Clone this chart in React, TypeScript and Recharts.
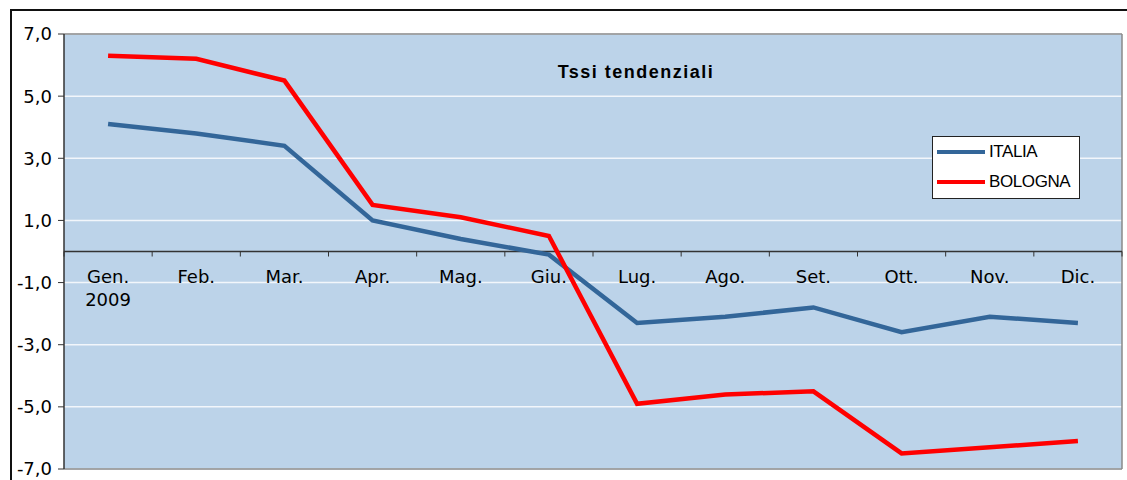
import React from 'react';
import { LineChart, Line, XAxis, YAxis, CartesianGrid, ReferenceLine } from 'recharts';

const CATEGORIES = ['Gen.', 'Feb.', 'Mar.', 'Apr.', 'Mag.', 'Giu.', 'Lug.', 'Ago.', 'Set.', 'Ott.', 'Nov.', 'Dic.'];
const SUBLABELS = ['2009', '', '', '', '', '', '', '', '', '', '', ''];
const ITALIA = [4.1, 3.8, 3.4, 1.0, 0.4, -0.1, -2.3, -2.1, -1.8, -2.6, -2.1, -2.3];
const BOLOGNA = [6.3, 6.2, 5.5, 1.5, 1.1, 0.5, -4.9, -4.6, -4.5, -6.5, -6.3, -6.1];
const Y_TICKS = [-7, -5, -3, -1, 1, 3, 5, 7];
const SERIES_NAMES = ['ITALIA', 'BOLOGNA'];
const TITLE = 'Tssi tendenziali';

const COLORS = { ITALIA: '#336699', BOLOGNA: '#FF0000' };

const data = CATEGORIES.map((c, i) => ({ cat: c, sub: SUBLABELS[i], ITALIA: ITALIA[i], BOLOGNA: BOLOGNA[i] }));

const W = 1127;
const H = 480;
const M_TOP = 34;
const M_BOTTOM = 10;
const X_H = 1;
const M_RIGHT = 5;
const Y_W = 64;
const PLOT_W = W - Y_W - M_RIGHT;
const PLOT_H = H - M_TOP - M_BOTTOM - X_H;
const Y_MIN = -7;
const Y_MAX = 7;
const ZERO_Y = M_TOP + (PLOT_H * Y_MAX) / (Y_MAX - Y_MIN);
const BW = PLOT_W / CATEGORIES.length;

const fmt = (v: number) => v.toFixed(1).replace('.', ',');

const CatTick = (props: any) => {
  const { x, payload, index } = props;
  const sub = SUBLABELS[index] || '';
  return (
    <g>
      <line x1={x - BW / 2} x2={x - BW / 2} y1={ZERO_Y} y2={ZERO_Y + 5} stroke="#333" strokeWidth={1} />
      {index === CATEGORIES.length - 1 && (
        <line x1={x + BW / 2} x2={x + BW / 2} y1={ZERO_Y} y2={ZERO_Y + 5} stroke="#333" strokeWidth={1} />
      )}
      <text x={x} y={ZERO_Y + 31} textAnchor="middle" fontFamily="DejaVu Sans" fontSize={18} fill="#000">
        {payload.value}
      </text>
      {sub && (
        <text x={x} y={ZERO_Y + 54} textAnchor="middle" fontFamily="DejaVu Sans" fontSize={18} fill="#000">
          {sub}
        </text>
      )}
    </g>
  );
};

export default function App() {
  return (
    <div style={{ position: 'fixed', left: 0, top: 0, width: W, height: H, overflow: 'hidden', background: '#fff' }}>
      <div
        style={{
          position: 'absolute',
          left: 10,
          top: 9,
          width: W + 20,
          height: H + 20,
          border: '2px solid #111',
          boxSizing: 'border-box',
        }}
      />
      <div style={{ position: 'absolute', left: 0, top: 0 }}>
        <LineChart width={W} height={H} data={data} margin={{ top: M_TOP, right: M_RIGHT, bottom: M_BOTTOM, left: 0 }}>
          <CartesianGrid horizontal vertical={false} fill="#BCD3E9" stroke="#F2F6FB" strokeWidth={1.5} />
          <CartesianGrid horizontal={false} vertical verticalPoints={[Y_W + PLOT_W]} stroke="#8A8A8A" strokeWidth={1.5} />
          <ReferenceLine y={Y_MAX} stroke="#8A8A8A" strokeWidth={1.5} />
          <ReferenceLine y={Y_MIN} stroke="#8A8A8A" strokeWidth={1.5} />
          <XAxis
            dataKey="cat"
            height={X_H}
            axisLine={false}
            tickLine={false}
            interval={0}
            padding={{ left: BW / 2, right: BW / 2 }}
            tick={<CatTick />}
          />
          <YAxis
            width={Y_W}
            domain={[Y_MIN, Y_MAX]}
            ticks={Y_TICKS}
            tickFormatter={fmt}
            axisLine={{ stroke: '#333', strokeWidth: 1.5 }}
            tickLine={{ stroke: '#333' }}
            tickSize={6}
            tickMargin={6}
            tick={{ fill: '#000', fontSize: 18, fontFamily: 'DejaVu Sans' }}
            interval={0}
          />
          <ReferenceLine y={0} stroke="#333" strokeWidth={1.5} />
          <Line
            dataKey="ITALIA"
            stroke={COLORS.ITALIA}
            strokeWidth={4.5}
            dot={false}
            type="linear"
            isAnimationActive={false}
          />
          <Line
            dataKey="BOLOGNA"
            stroke={COLORS.BOLOGNA}
            strokeWidth={4.5}
            dot={false}
            type="linear"
            isAnimationActive={false}
          />
        </LineChart>
      </div>
      <div
        style={{
          position: 'absolute',
          left: 0,
          width: 1272,
          top: 63,
          textAlign: 'center',
          fontFamily: 'Liberation Sans',
          fontWeight: 'bold',
          fontSize: 18,
          lineHeight: '18px',
          letterSpacing: 1.5,
          color: '#000',
        }}
      >
        {TITLE}
      </div>
      <div
        style={{
          position: 'absolute',
          left: 932,
          top: 136,
          width: 148,
          height: 63,
          boxSizing: 'border-box',
          border: '1px solid #222',
          background: '#fff',
        }}
      >
        {SERIES_NAMES.map((n) => (
          <div key={n} style={{ display: 'flex', alignItems: 'center', height: 30, paddingLeft: 4 }}>
            <div style={{ width: 48, height: 4, background: (COLORS as any)[n] }} />
            <span
              style={{
                marginLeft: 4,
                fontFamily: 'Liberation Sans',
                fontSize: 17,
                letterSpacing: -0.4,
                color: '#000',
              }}
            >
              {n}
            </span>
          </div>
        ))}
      </div>
    </div>
  );
}
